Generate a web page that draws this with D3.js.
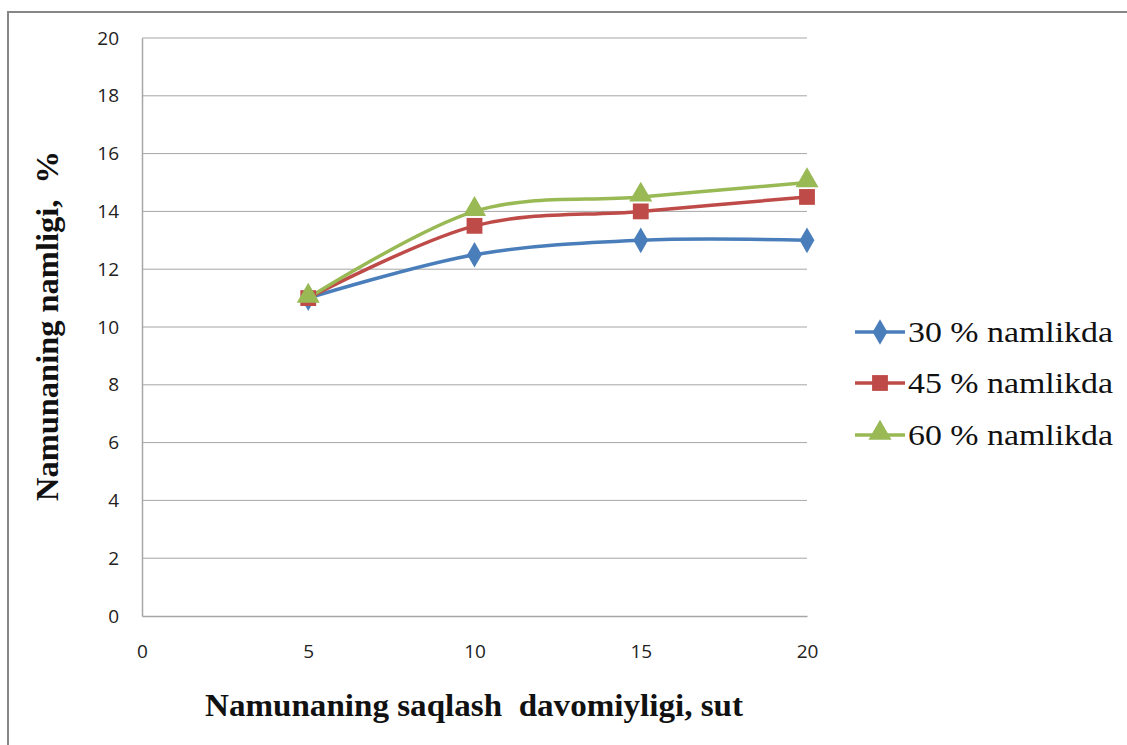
<!DOCTYPE html>
<html><head><meta charset="utf-8">
<script src="https://cdn.jsdelivr.net/npm/d3@7"></script>
<style>body{margin:0;background:#fff}svg{display:block}</style>
</head><body>
<svg id="c" width="1127" height="745"></svg>
<script>
const xValues = [5, 10, 15, 20];
const seriesNames = ["30 % namlikda", "45 % namlikda", "60 % namlikda"];
const s30 = [11, 12.5, 13, 13];
const s45 = [11, 13.5, 14, 14.5];
const s60 = [11, 14, 14.5, 15];
const xTicks = [0, 5, 10, 15, 20];
const yTicks = [0, 2, 4, 6, 8, 10, 12, 14, 16, 18, 20];
const colors = ["#4A7EBB", "#BE4B48", "#98B954"];
const symbols = [d3.symbolDiamond, d3.symbolSquare, d3.symbolTriangle];
const allSeries = [s30, s45, s60];

const svg = d3.select("#c");
svg.append("rect").attr("x", 8).attr("y", 12).attr("width", 1140).attr("height", 760)
  .attr("fill", "none").attr("stroke", "#868686").attr("stroke-width", 2);

const x = d3.scaleLinear().domain([0, 20]).range([142, 807]);
const y = d3.scaleLinear().domain([0, 20]).range([616, 38]);

svg.append("g").selectAll("line").data(yTicks.filter(d => d > 0)).join("line")
  .attr("x1", x(0)).attr("x2", x(20)).attr("y1", d => y(d)).attr("y2", d => y(d))
  .attr("stroke", "#a6a6a6").attr("stroke-width", 1);

const yAxis = svg.append("g").attr("transform", `translate(${x(0)},0)`)
  .call(d3.axisLeft(y).tickValues(yTicks).tickSize(0).tickPadding(23));
const xAxis = svg.append("g").attr("transform", `translate(0,${y(0)})`)
  .call(d3.axisBottom(x).tickValues(xTicks).tickSize(0).tickPadding(29));
[yAxis, xAxis].forEach(a => {
  a.select(".domain").attr("stroke", "#a6a6a6").attr("stroke-width", 1.5);
  a.selectAll("text").attr("font-family", "'Open Sans', 'Liberation Sans', sans-serif")
    .attr("font-size", 19).attr("fill", "#222");
});

const line = d3.line().x((d, i) => x(xValues[i])).y(d => y(d)).curve(d3.curveCardinal.tension(0));
allSeries.forEach((s, k) => {
  svg.append("path").datum(s).attr("d", line).attr("fill", "none")
    .attr("stroke", colors[k]).attr("stroke-width", 3.5);
});
const symSize = [190, 250, 230];
allSeries.forEach((s, k) => {
  svg.append("g").selectAll("path").data(s).join("path")
    .attr("transform", (d, i) => `translate(${x(xValues[i])},${y(d) + (k === 2 ? -2 : 0)})`)
    .attr("d", d3.symbol().type(symbols[k]).size(symSize[k])).attr("fill", colors[k]);
});

const legY = [332, 383, 435];
seriesNames.forEach((n, k) => {
  const g = svg.append("g").attr("transform", `translate(0,${legY[k]})`);
  g.append("line").attr("x1", 855).attr("x2", 905).attr("y1", 0).attr("y2", 0)
    .attr("stroke", colors[k]).attr("stroke-width", 3.5);
  g.append("path").attr("transform", `translate(880,${k === 2 ? -2 : 0})`)
    .attr("d", d3.symbol().type(symbols[k]).size(symSize[k])).attr("fill", colors[k]);
  g.append("text").attr("x", 908).attr("y", 10).text(n)
    .attr("textLength", 205).attr("lengthAdjust", "spacingAndGlyphs")
    .attr("font-family", "'Liberation Serif', 'Times New Roman', serif").attr("font-size", 29).attr("fill", "#111");
});

svg.append("text").attr("transform", "translate(58,326) rotate(-90)").attr("text-anchor", "middle")
  .attr("font-family", "'Liberation Serif', 'Times New Roman', serif").attr("font-weight", "bold")
  .attr("font-size", 32).attr("fill", "#111").attr("xml:space", "preserve")
  .attr("textLength", 350).attr("lengthAdjust", "spacingAndGlyphs").text("Namunaning namligi,  %");
svg.append("text").attr("x", 474).attr("y", 716).attr("text-anchor", "middle")
  .attr("font-family", "'Liberation Serif', 'Times New Roman', serif").attr("font-weight", "bold")
  .attr("font-size", 32).attr("fill", "#111").attr("xml:space", "preserve")
  .attr("textLength", 538).attr("lengthAdjust", "spacingAndGlyphs").text("Namunaning saqlash  davomiyligi, sut");
</script>
</body></html>
